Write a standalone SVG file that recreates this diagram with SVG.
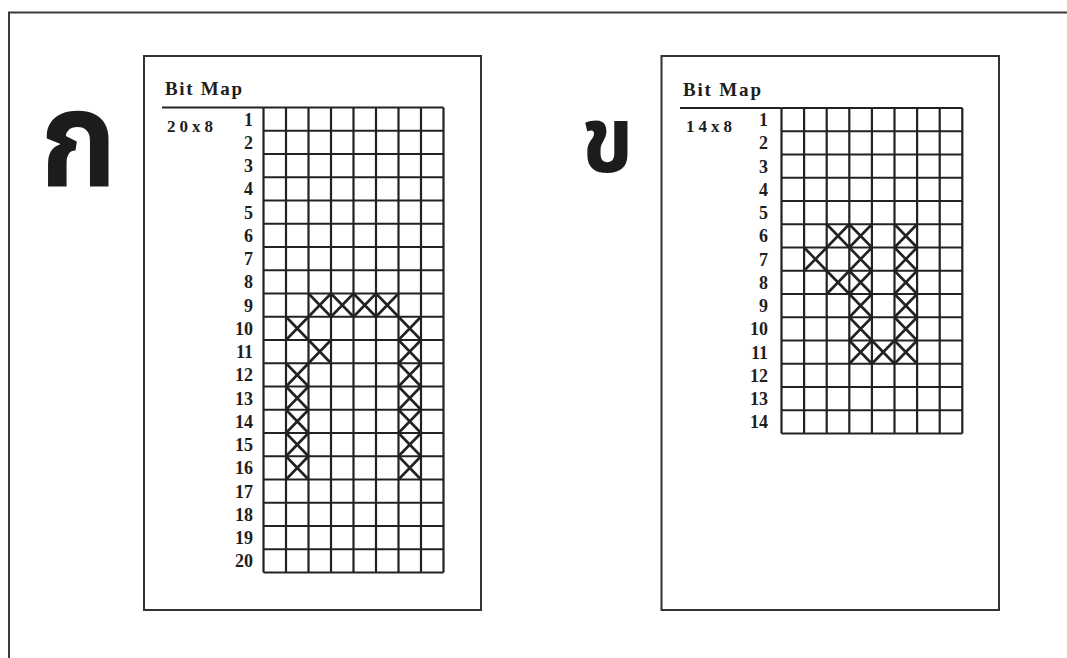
<svg xmlns="http://www.w3.org/2000/svg" xmlns:xlink="http://www.w3.org/1999/xlink" width="1067" height="658" viewBox="0 0 1067 658">
<style>
.frame{fill:none;stroke:#3a3a3a;stroke-width:2}
.panel{fill:#fff;stroke:#333;stroke-width:2}
.grid{fill:none;stroke:#222;stroke-width:2.2}
.xm{fill:none;stroke:#222;stroke-width:2.6}
.title{font-family:"Liberation Serif",serif;font-size:19px;font-weight:bold;fill:#1e1e1e}
.dim{font-family:"Liberation Serif",serif;font-size:17px;font-weight:bold;fill:#1e1e1e}
.num{font-family:"Liberation Serif",serif;font-size:18px;font-weight:bold;fill:#1e1e1e;text-anchor:end}
.thai{font-family:"Noto Sans Thai","Noto Sans","DejaVu Sans",sans-serif;font-weight:bold;fill:#1c1c1c}
</style>
<defs>
<path id="xl" class="xm" d="M0 0L22.5 23.25M22.5 0L0 23.25"/>
<path id="xr" class="xm" d="M0 0L22.6 23.25M22.6 0L0 23.25"/>
</defs>
<rect width="1067" height="658" fill="#fff"/>
<rect class="frame" x="9" y="12.5" width="1100" height="700"/>

<g id="char-ko">
<text class="thai" x="0" y="0" font-size="120" text-anchor="middle" transform="translate(78.5 187) scale(1.03 1.13)">ก</text>
</g>
<g id="char-kho">
<text class="thai" x="0" y="0" font-size="86" text-anchor="middle" transform="translate(607.5 172) scale(1.03 1.08)">ข</text>
</g>

<g id="panel-left">
<rect class="panel" x="144" y="56" width="337" height="554"/>
<text class="title" x="165" y="95" textLength="77">Bit Map</text>
<line class="grid" x1="162" y1="107.5" x2="263.5" y2="107.5"/>
<text class="dim" x="167" y="131.5" textLength="46">20x8</text>
<path class="grid" d="M263.5 107.5V572.5M286 107.5V572.5M308.5 107.5V572.5M331 107.5V572.5M353.5 107.5V572.5M376 107.5V572.5M398.5 107.5V572.5M421 107.5V572.5M443.5 107.5V572.5
M263.5 107.5H443.5M263.5 130.75H443.5M263.5 154H443.5M263.5 177.25H443.5M263.5 200.5H443.5M263.5 223.75H443.5M263.5 247H443.5M263.5 270.25H443.5M263.5 293.5H443.5M263.5 316.75H443.5M263.5 340H443.5M263.5 363.25H443.5M263.5 386.5H443.5M263.5 409.75H443.5M263.5 433H443.5M263.5 456.25H443.5M263.5 479.5H443.5M263.5 502.75H443.5M263.5 526H443.5M263.5 549.25H443.5M263.5 572.5H443.5"/>
<g class="nums">
<text class="num" x="253" y="125.5">1</text>
<text class="num" x="253" y="148.75">2</text>
<text class="num" x="253" y="172">3</text>
<text class="num" x="253" y="195.25">4</text>
<text class="num" x="253" y="218.5">5</text>
<text class="num" x="253" y="241.75">6</text>
<text class="num" x="253" y="265">7</text>
<text class="num" x="253" y="288.25">8</text>
<text class="num" x="253" y="311.5">9</text>
<text class="num" x="253" y="334.75">10</text>
<text class="num" x="253" y="358">11</text>
<text class="num" x="253" y="381.25">12</text>
<text class="num" x="253" y="404.5">13</text>
<text class="num" x="253" y="427.75">14</text>
<text class="num" x="253" y="451">15</text>
<text class="num" x="253" y="474.25">16</text>
<text class="num" x="253" y="497.5">17</text>
<text class="num" x="253" y="520.75">18</text>
<text class="num" x="253" y="544">19</text>
<text class="num" x="253" y="567.25">20</text>
</g>
<g class="marks">
<use xlink:href="#xl" x="308.5" y="293.5"/>
<use xlink:href="#xl" x="331" y="293.5"/>
<use xlink:href="#xl" x="353.5" y="293.5"/>
<use xlink:href="#xl" x="376" y="293.5"/>
<use xlink:href="#xl" x="286" y="316.75"/>
<use xlink:href="#xl" x="398.5" y="316.75"/>
<use xlink:href="#xl" x="308.5" y="340"/>
<use xlink:href="#xl" x="398.5" y="340"/>
<use xlink:href="#xl" x="286" y="363.25"/>
<use xlink:href="#xl" x="398.5" y="363.25"/>
<use xlink:href="#xl" x="286" y="386.5"/>
<use xlink:href="#xl" x="398.5" y="386.5"/>
<use xlink:href="#xl" x="286" y="409.75"/>
<use xlink:href="#xl" x="398.5" y="409.75"/>
<use xlink:href="#xl" x="286" y="433"/>
<use xlink:href="#xl" x="398.5" y="433"/>
<use xlink:href="#xl" x="286" y="456.25"/>
<use xlink:href="#xl" x="398.5" y="456.25"/>
</g>
</g>

<g id="panel-right">
<rect class="panel" x="661.5" y="56" width="337.5" height="554"/>
<text class="title" x="683" y="96" textLength="78">Bit Map</text>
<line class="grid" x1="680" y1="108" x2="781.5" y2="108"/>
<text class="dim" x="686" y="132" textLength="46">14x8</text>
<path class="grid" d="M781.5 108V433.5M804.1 108V433.5M826.7 108V433.5M849.3 108V433.5M871.9 108V433.5M894.5 108V433.5M917.1 108V433.5M939.7 108V433.5M962.3 108V433.5
M781.5 108H962.3M781.5 131.25H962.3M781.5 154.5H962.3M781.5 177.75H962.3M781.5 201H962.3M781.5 224.25H962.3M781.5 247.5H962.3M781.5 270.75H962.3M781.5 294H962.3M781.5 317.25H962.3M781.5 340.5H962.3M781.5 363.75H962.3M781.5 387H962.3M781.5 410.25H962.3M781.5 433.5H962.3"/>
<g class="nums">
<text class="num" x="768" y="126">1</text>
<text class="num" x="768" y="149.25">2</text>
<text class="num" x="768" y="172.5">3</text>
<text class="num" x="768" y="195.75">4</text>
<text class="num" x="768" y="219">5</text>
<text class="num" x="768" y="242.25">6</text>
<text class="num" x="768" y="265.5">7</text>
<text class="num" x="768" y="288.75">8</text>
<text class="num" x="768" y="312">9</text>
<text class="num" x="768" y="335.25">10</text>
<text class="num" x="768" y="358.5">11</text>
<text class="num" x="768" y="381.75">12</text>
<text class="num" x="768" y="405">13</text>
<text class="num" x="768" y="428.25">14</text>
</g>
<g class="marks">
<use xlink:href="#xr" x="826.7" y="224.25"/>
<use xlink:href="#xr" x="849.3" y="224.25"/>
<use xlink:href="#xr" x="894.5" y="224.25"/>
<use xlink:href="#xr" x="804.1" y="247.5"/>
<use xlink:href="#xr" x="849.3" y="247.5"/>
<use xlink:href="#xr" x="894.5" y="247.5"/>
<use xlink:href="#xr" x="826.7" y="270.75"/>
<use xlink:href="#xr" x="849.3" y="270.75"/>
<use xlink:href="#xr" x="894.5" y="270.75"/>
<use xlink:href="#xr" x="849.3" y="294"/>
<use xlink:href="#xr" x="894.5" y="294"/>
<use xlink:href="#xr" x="849.3" y="317.25"/>
<use xlink:href="#xr" x="894.5" y="317.25"/>
<use xlink:href="#xr" x="849.3" y="340.5"/>
<use xlink:href="#xr" x="871.9" y="340.5"/>
<use xlink:href="#xr" x="894.5" y="340.5"/>
</g>
</g>
</svg>
